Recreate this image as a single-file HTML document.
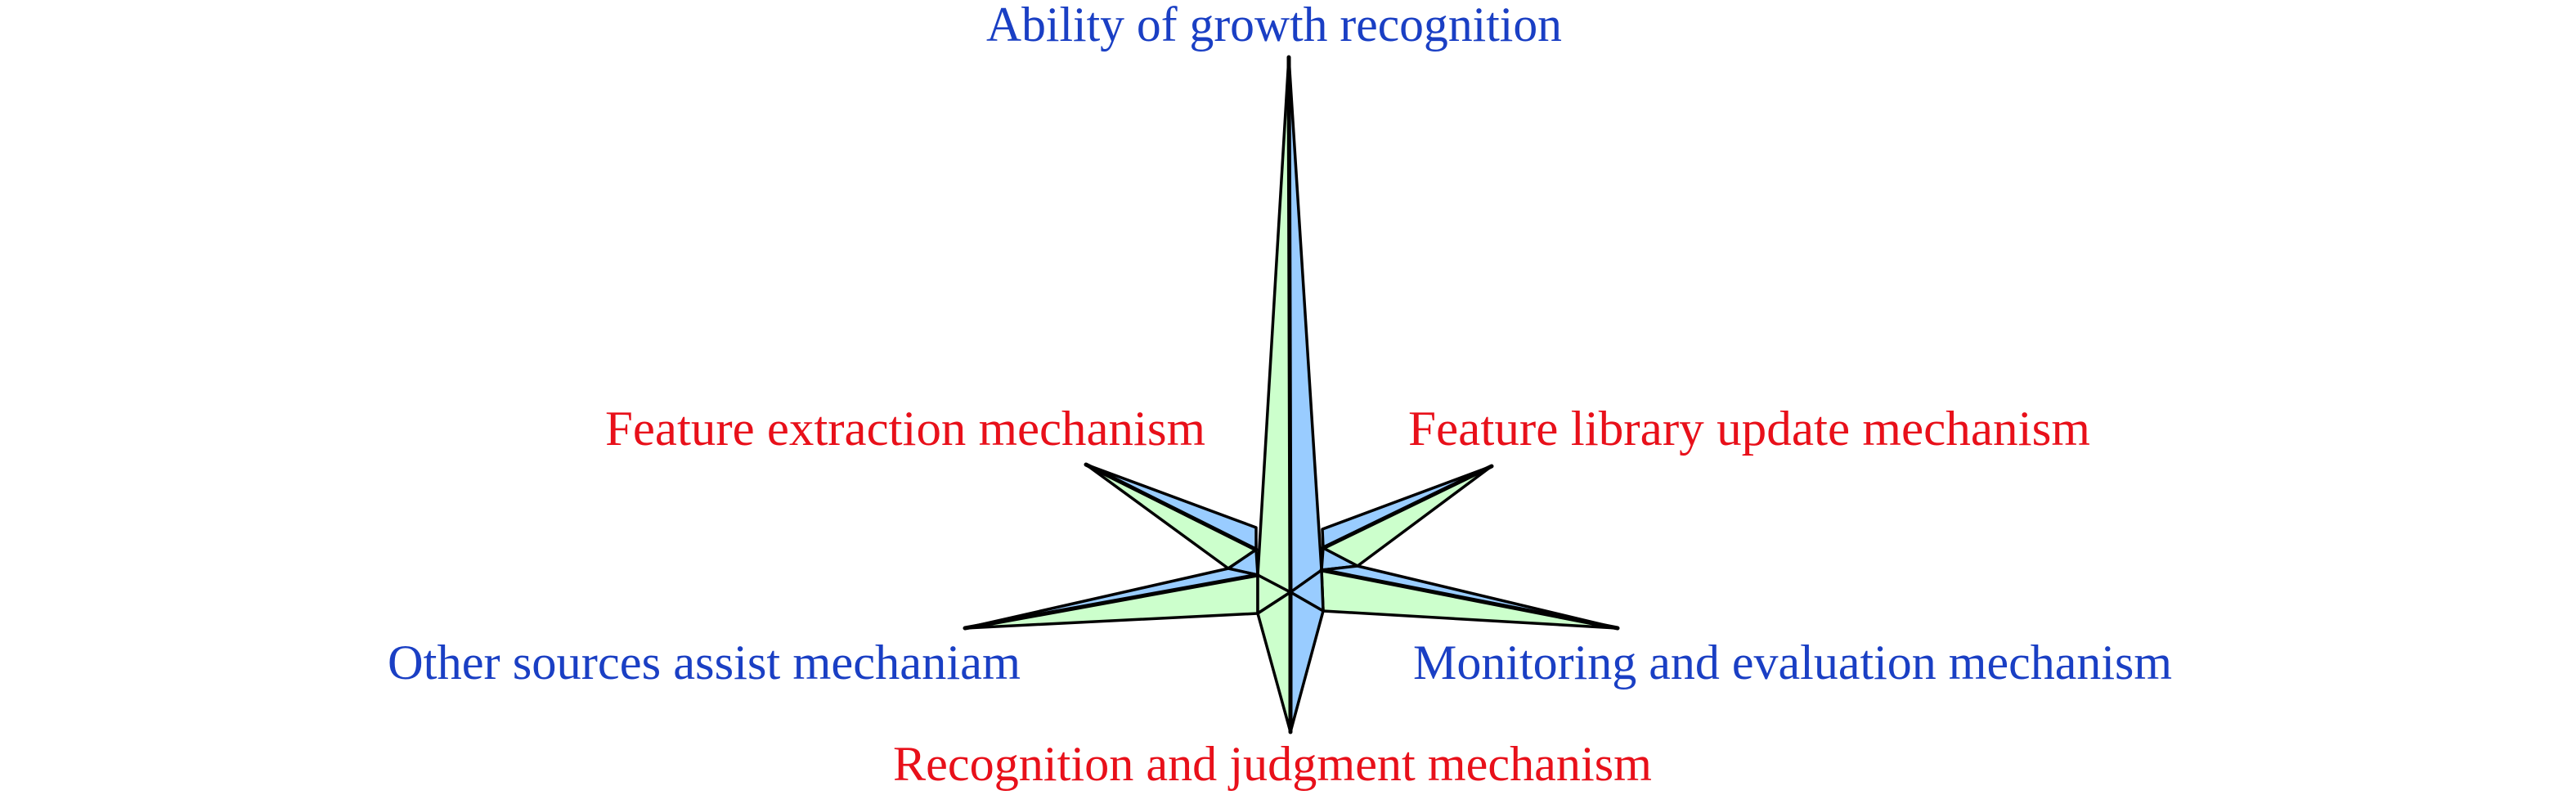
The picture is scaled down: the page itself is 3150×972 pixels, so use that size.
<!DOCTYPE html>
<html><head><meta charset="utf-8"><style>html,body{margin:0;padding:0;background:#fff}svg{display:block}</style></head>
<body>
<svg width="3150" height="972" viewBox="0 0 3150 972" xmlns="http://www.w3.org/2000/svg">
<g font-family="Liberation Serif, serif" font-size="60" text-anchor="start">
<text x="1206" y="50" fill="#1a3fc4" textLength="704" lengthAdjust="spacingAndGlyphs">Ability of growth recognition</text>
<text x="740" y="544" fill="#e8101a" textLength="734" lengthAdjust="spacingAndGlyphs">Feature extraction mechanism</text>
<text x="1722" y="544" fill="#e8101a" textLength="834" lengthAdjust="spacingAndGlyphs">Feature library update mechanism</text>
<text x="474" y="830" fill="#1a3fc4" textLength="774" lengthAdjust="spacingAndGlyphs">Other sources assist mechaniam</text>
<text x="1728" y="830" fill="#1a3fc4" textLength="928" lengthAdjust="spacingAndGlyphs">Monitoring and evaluation mechanism</text>
<text x="1092" y="954" fill="#e8101a" textLength="928" lengthAdjust="spacingAndGlyphs">Recognition and judgment mechanism</text>
</g>
<g stroke="#000" stroke-width="3.5" stroke-linejoin="round">
<polygon points="1328,568 1536,645 1536,672" fill="#99ccff"/>
<polygon points="1328,568 1536,672 1502,695" fill="#ccffcc"/>
<polygon points="1502,695 1536,672 1538,703" fill="#99ccff"/>
<polygon points="1824,570 1617,647 1618,670" fill="#99ccff"/>
<polygon points="1824,570 1618,670 1660,692" fill="#ccffcc"/>
<polygon points="1660,692 1618,670 1616,697" fill="#99ccff"/>
<polygon points="1180,768 1502,695 1538,703" fill="#99ccff"/>
<polygon points="1180,768 1538,703 1538,750" fill="#ccffcc"/>
<polygon points="1538,703 1538,750 1578,724" fill="#ccffcc"/>
<polygon points="1978,768 1660,692 1616,697" fill="#99ccff"/>
<polygon points="1978,768 1616,697 1618,747" fill="#ccffcc"/>
<polygon points="1616,697 1618,747 1578,724" fill="#99ccff"/>
<polygon points="1576,70 1538,703 1578,724" fill="#ccffcc"/>
<polygon points="1576,70 1616,697 1578,724" fill="#99ccff"/>
<polygon points="1578,895 1538,750 1578,724" fill="#ccffcc"/>
<polygon points="1578,895 1618,747 1578,724" fill="#99ccff"/>
</g>
<g stroke="#000" stroke-width="5" stroke-linecap="round">
<line x1="1576" y1="70" x2="1578" y2="724"/>
<line x1="1578" y1="895" x2="1578" y2="724"/>
<line x1="1328" y1="568" x2="1536" y2="672"/>
<line x1="1824" y1="570" x2="1618" y2="670"/>
<line x1="1180" y1="768" x2="1538" y2="703"/>
<line x1="1978" y1="768" x2="1616" y2="697"/>
</g>
</svg>
</body></html>
